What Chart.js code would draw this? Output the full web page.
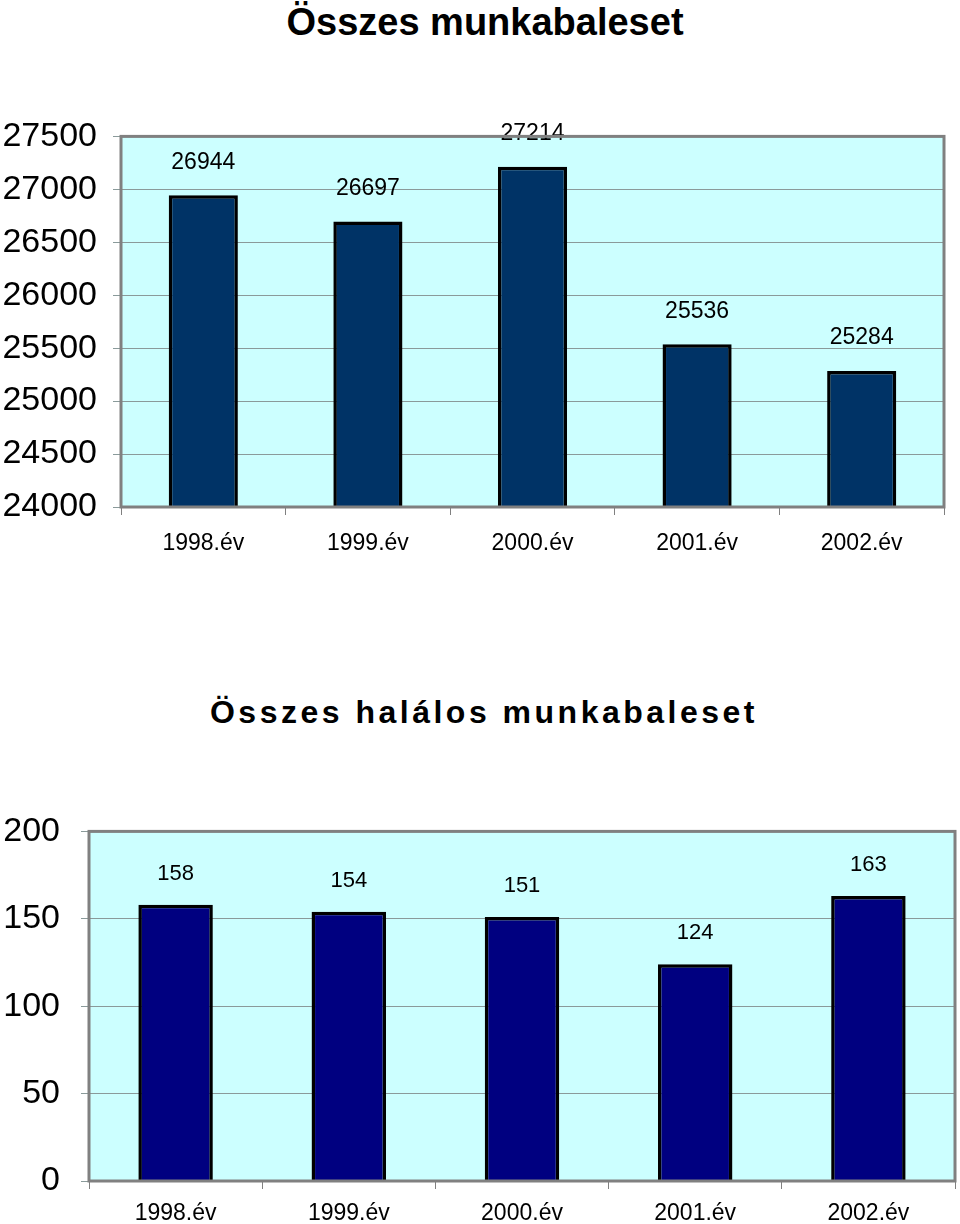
<!DOCTYPE html>
<html>
<head>
<meta charset="utf-8">
<script src="https://cdn.jsdelivr.net/npm/chart.js@4"></script>
<style>
  body { margin: 0; background: #fff; font-family: "Liberation Sans", Arial, sans-serif; }
  .page { position: relative; width: 960px; height: 1224px; }
  .title { position: absolute; left: 0; width: 960px; text-align: center; font-weight: bold; color: #000; white-space: nowrap; }
  #title1 { top: 0; font-size: 38px; line-height: 44px; padding-left: 10px; box-sizing: border-box; }
  #title2 { top: 692px; font-size: 32px; line-height: 40px; letter-spacing: 3.5px; padding-left: 8px; box-sizing: border-box; }
  canvas { position: absolute; left: 0; }
  #chart1 { top: 100px; }
  #chart2 { top: 790px; }
</style>
</head>
<body>
<div class="page">
  <div class="title" id="title1">Összes munkabaleset</div>
  <canvas id="chart1" width="960" height="470"></canvas>
  <div class="title" id="title2">Összes halálos munkabaleset</div>
  <canvas id="chart2" width="960" height="434"></canvas>
</div>
<script>
const years = ["1998.év", "1999.év", "2000.év", "2001.év", "2002.év"];
const allAccidents = [26944, 26697, 27214, 25536, 25284];
const fatalAccidents = [158, 154, 151, 124, 163];

const FONT = "'Liberation Sans', Arial, sans-serif";

// cyan plot background + grey frame, like the old spreadsheet chart
const plotFrame = {
  id: "plotFrame",
  beforeDraw(chart) {
    const { ctx, chartArea: a } = chart;
    ctx.save();
    ctx.fillStyle = "#ccffff";
    ctx.fillRect(a.left, a.top, a.right - a.left, a.bottom - a.top);
    ctx.restore();
  },
  afterDraw(chart) {
    const { ctx, chartArea: a } = chart;
    ctx.save();
    ctx.strokeStyle = "#808080";
    ctx.lineWidth = 3;
    ctx.strokeRect(a.left, a.top, a.right - a.left, a.bottom - a.top);
    ctx.restore();
  },
};

// value label above each bar
const valueLabels = {
  id: "valueLabels",
  afterDatasetsDraw(chart, args, opts) {
    const { ctx } = chart;
    const meta = chart.getDatasetMeta(0);
    const values = chart.data.datasets[0].data;
    ctx.save();
    ctx.font = opts.size + "px " + FONT;
    ctx.fillStyle = "#000";
    ctx.textAlign = "center";
    ctx.textBaseline = "middle";
    meta.data.forEach((bar, i) => {
      ctx.fillText(String(values[i]), bar.x, bar.y - opts.offset);
    });
    ctx.restore();
  },
};

function makeChart(id, data, color, yMin, yMax, step, cfg) {
  const context = document.getElementById(id).getContext("2d");
  return new Chart(context, {
    type: "bar",
    data: {
      labels: years,
      datasets: [
        {
          data: data,
          backgroundColor: color,
          borderColor: "#000",
          borderWidth: 3.5,
          categoryPercentage: 1,
          barPercentage: cfg.barPct,
        },
      ],
    },
    options: {
      responsive: false,
      animation: false,
      layout: { padding: { top: cfg.top, right: cfg.right, left: 0, bottom: 0 } },
      plugins: {
        legend: { display: false },
        tooltip: { enabled: false },
        valueLabels: { size: cfg.valueSize, offset: cfg.valueOffset },
      },
      scales: {
        x: {
          grid: {
            drawOnChartArea: false,
            tickLength: 8,
            color: "#808080",
          },
          border: { color: "#808080", width: 2 },
          ticks: {
            color: "#000",
            padding: cfg.xPad,
            font: { family: FONT, size: cfg.xSize },
            maxRotation: 0,
          },
          afterFit: (s) => { s.height = cfg.xHeight; },
        },
        y: {
          min: yMin,
          max: yMax,
          grid: { color: "#8a9a9a", tickLength: 8 },
          border: { color: "#808080", width: 2 },
          ticks: {
            stepSize: step,
            color: "#000",
            padding: cfg.yPad,
            font: { family: FONT, size: 34 },
            autoSkip: false,
            callback: (v) => String(v),
          },
          afterFit: (s) => { s.width = cfg.yWidth; },
        },
      },
    },
    plugins: [plotFrame, valueLabels],
  });
}

makeChart("chart1", allAccidents, "#003366", 24000, 27500, 500, {
  barPct: 0.42, top: 33, right: 16, yWidth: 121, xHeight: 63,
  xPad: 15, xSize: 23, yPad: 16, valueSize: 23, valueOffset: 33,
});

makeChart("chart2", fatalAccidents, "#000080", 0, 200, 50, {
  barPct: 0.43, top: 39, right: 5, yWidth: 89, xHeight: 43,
  xPad: 11, xSize: 23, yPad: 21, valueSize: 22, valueOffset: 31,
});
</script>
</body>
</html>
